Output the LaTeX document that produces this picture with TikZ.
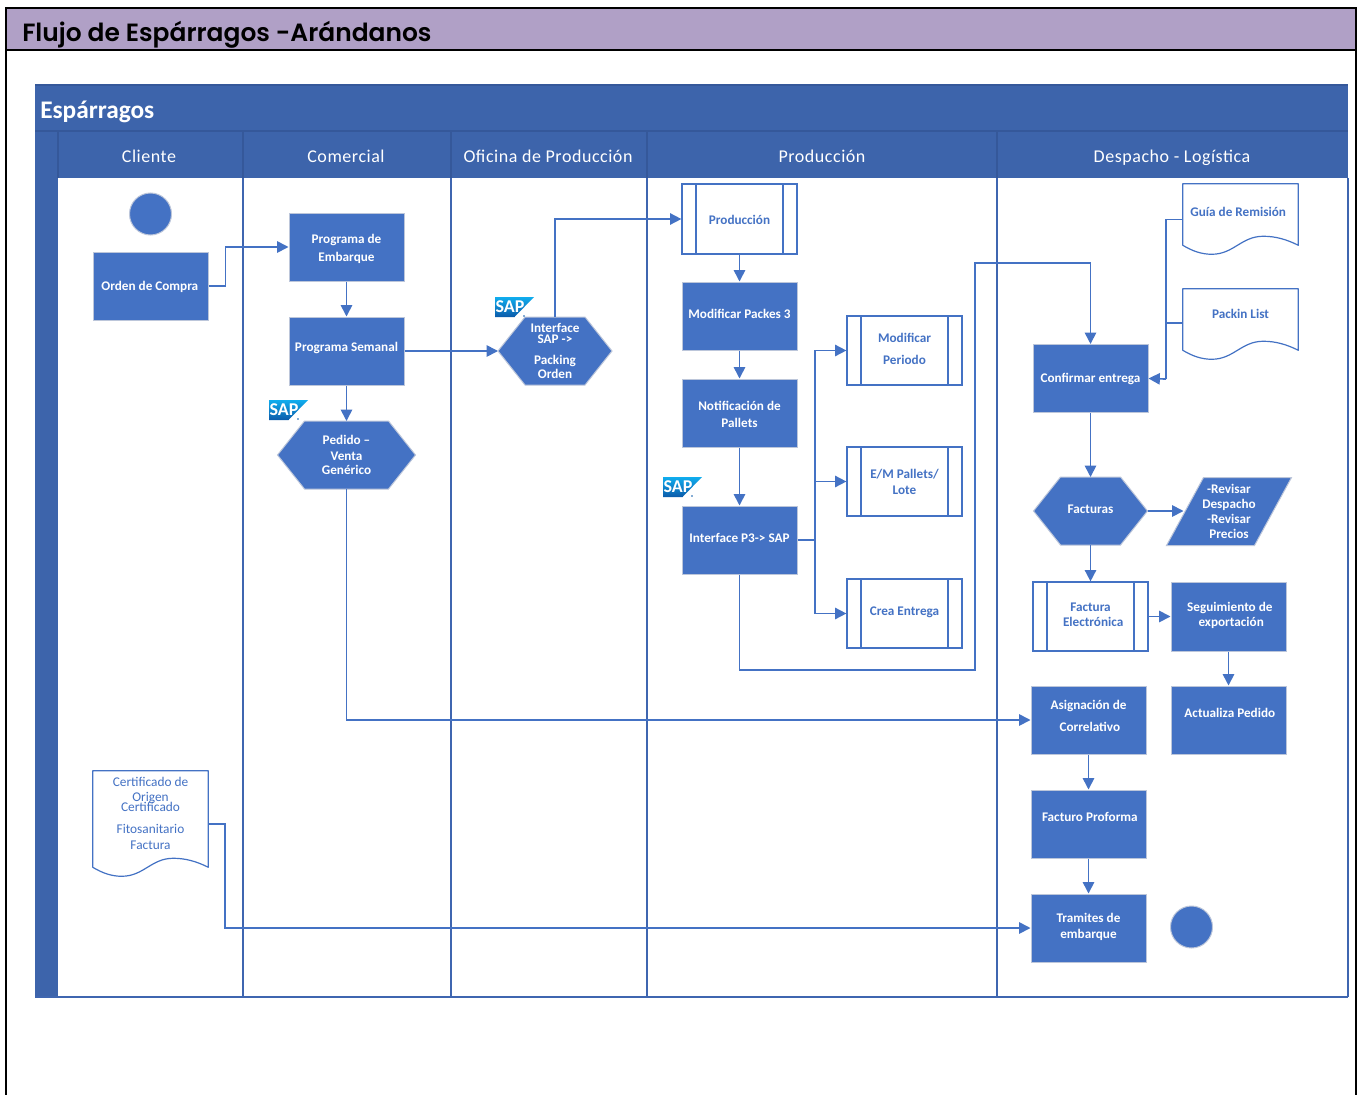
\documentclass[tikz,border=0pt]{standalone}
\usepackage{fontspec}
\setmainfont{Carlito}
\newfontfamily\titlefont{Poppins}[BoldFont={Poppins SemiBold}]
\usetikzlibrary{arrows.meta}
\definecolor{boxblue}{HTML}{4472C4}
\definecolor{boxedge}{HTML}{BCC6DA}
\definecolor{laneblue}{HTML}{3D64AB}
\definecolor{lanedark}{HTML}{35589A}
\definecolor{lineblue}{HTML}{3F66B0}
\definecolor{band}{HTML}{B0A0C6}
\definecolor{saptop}{HTML}{10ADEE}
\definecolor{sapbot}{HTML}{0B5BAA}
\newcommand{\up}[1]{\rule[-#1pt]{0pt}{0pt}}
\newcommand{\dn}[1]{\rule{0pt}{#1pt}}
\newcommand{\boxfont}{\fontsize{9.9}{11.4}\selectfont\bfseries}
\newcommand{\docwave}[1]{%
  \draw[docline] (#1.south west) -- (#1.north west) -- (#1.north east) -- (#1.south east)
   .. controls ([shift={(-12,-6)}]#1.south east) and ([shift={(-23,-9)}]#1.south east) .. ([shift={(-35,-9)}]#1.south east)
   .. controls ([shift={(-57,-9)}]#1.south east) and ([shift={(51,9)}]#1.south west) .. ([shift={(29,9)}]#1.south west)
   .. controls ([shift={(19,9)}]#1.south west) and ([shift={(10,6)}]#1.south west) .. (#1.south west);}
\tikzset{
  x=0.75pt, y=-0.75pt,
  sz/.style n args={2}{minimum width=#1*0.75pt, minimum height=#2*0.75pt},
  proc/.style={rectangle, fill=boxblue, draw=boxedge, line width=0.75pt, inner sep=0pt,
     text=white, font=\boxfont, align=center},
  subp/.style={rectangle, fill=white, draw=boxblue, line width=0.9pt, inner sep=0pt,
     text=boxblue, font=\boxfont, align=center,
     path picture={\draw[boxblue, line width=0.9pt]
        ([shift={(14,0)}]path picture bounding box.north west) -- ([shift={(14,0)}]path picture bounding box.south west)
        ([shift={(-14,0)}]path picture bounding box.north east) -- ([shift={(-14,0)}]path picture bounding box.south east);}},
  hexa/.style={rectangle, inner sep=0pt, outer sep=-0.75pt, text=white, font=\boxfont, align=center,
     path picture={\path[fill=boxblue, draw=boxedge, line width=0.75pt]
        ([shift={(1,0)}]path picture bounding box.west)
        -- ([shift={(#1+1,1)}]path picture bounding box.north west)
        -- ([shift={(-#1-1,1)}]path picture bounding box.north east)
        -- ([shift={(-1,0)}]path picture bounding box.east)
        -- ([shift={(-#1-1,-1)}]path picture bounding box.south east)
        -- ([shift={(#1+1,-1)}]path picture bounding box.south west) -- cycle;}},
  para/.style={rectangle, inner sep=0pt, text=white, font=\boxfont, align=center,
     path picture={\path[fill=boxblue, draw=boxedge, line width=0.75pt]
        ([shift={(#1+1,1)}]path picture bounding box.north west)
        -- ([shift={(-1,1)}]path picture bounding box.north east)
        -- ([shift={(-#1-1,-1)}]path picture bounding box.south east)
        -- ([shift={(1,-1)}]path picture bounding box.south west) -- cycle;}},
  docnode/.style={rectangle, inner sep=0pt, text=boxblue, align=center},
  docline/.style={boxblue, line width=0.9pt, line join=round},
  ball/.style={circle, fill=boxblue, draw=boxedge, line width=0.75pt, inner sep=0pt, minimum size=31.5pt},
  conn/.style={boxblue, line width=1.25pt, -{Triangle[length=8.5pt,width=8.5pt]}},
  plain/.style={boxblue, line width=1.25pt},
  lane/.style={lineblue, line width=1.4pt},
  head/.style={text=white, font=\fontsize{13.5}{15}\selectfont\addfontfeature{LetterSpace=3}, inner sep=0pt, text height=10pt, text depth=3pt},
  saplogo/.pic={
    \shade[top color=saptop, bottom color=sapbot] (0,0) -- (39,0) -- (19.5,20) -- (0,20) -- cycle;
    \node[text=white, inner sep=0pt, font=\fontsize{13.5}{14}\selectfont\bfseries] (-t) at (15,9.5) {SAP};
    \fill[sapbot] (29,19) circle (0.9);
  },
}
\begin{document}
\begin{tikzpicture}
\useasboundingbox (0,0) rectangle (1359,1095);
\fill[white] (0,0) rectangle (1359,1095);
% outer frame
\fill[band] (6,8) rectangle (1356,50);
\draw[black, line width=1.5pt] (6,1096) -- (6,8) -- (1356,8) -- (1356,1096);
\draw[black, line width=1.5pt] (6,50) -- (1356,50);
\node[anchor=west, inner sep=0pt, text=black, font=\titlefont\fontsize{18.7}{24}\selectfont\bfseries] (title) at (22,34.5) {Flujo de Espárragos -Arándanos};
% swimlane
\fill[laneblue] (35,85) rectangle (1348,178);
\fill[laneblue] (35,178) rectangle (58,997);
\draw[lanedark, line width=0.9pt] (35,85) -- (1348,85) (35,131) -- (1348,131);
\foreach \xx in {58,243,451,647,997}{\draw[lanedark, line width=0.9pt] (\xx,131) -- (\xx,178);}
\foreach \xx in {243,451,647,997,1348}{\draw[lane] (\xx,178) -- (\xx,997);}
\draw[lane] (35,997) -- (1348,997);
\node[anchor=west, inner sep=0pt, text=white, font=\fontsize{19}{22}\selectfont\bfseries] (lanetitle) at (40,111.5) {Espárragos};
\node[head] (h1) at (149,158) {Cliente};
\node[head] (h2) at (346,158) {Comercial};
\node[head] (h3) at (548,158) {Oficina de Producción};
\node[head] (h4) at (822,158) {Producción};
\node[head] (h5) at (1172,158) {Despacho - Logística};
% Cliente
\node[ball] (start) at (150.5,214) {};
\node[proc,sz={115}{68}] (orden) at (150.5,286) {\dn{9}\hspace{-1pt}Orden de Compra};
\node[docnode,sz={115}{96},font=\fontsize{10}{11.2}\selectfont] (cert) at (150.5,819) {Certificado de\\Origen\\[-3.4pt]Certificado\\[5.4pt]Fitosanitario\\[0.8pt]Factura\up{8.5}};
\docwave{cert}
% Comercial
\node[proc,sz={115}{68}] (pemb) at (346.5,247) {\dn{10}Programa de\\[1.6pt]Embarque};
\node[proc,sz={115}{68}] (psem) at (346.5,351) {Programa Semanal\up{6}};
\node[hexa=27,sz={140}{70}] (ped) at (346.5,455) {Pedido --\\[0.6pt]Venta\\[-0.4pt]Genérico};
% Oficina
\node[hexa=27,sz={116}{70}] (isap) at (555,351) {Interface\\[-2.8pt]SAP ->\\[4.4pt]Packing\\[-1pt]Orden};
% Produccion
\node[subp,sz={115}{70}] (prod) at (739.5,219) {\dn{9}Producción};
\node[proc,sz={115}{68}] (mod3) at (739.5,316) {Modificar Packes 3\up{2.5}};
\node[proc,sz={115}{68}] (notif) at (739.5,413) {\dn{9}Notificación de\\[0.8pt]Pallets};
\node[proc,sz={115}{68}] (p3) at (739.5,540) {Interface P3-> SAP\up{2.5}};
\node[subp,sz={115}{69}] (modp) at (904.5,350.5) {Modificar\\[4.6pt]Periodo\up{2.5}};
\node[subp,sz={115}{69}] (emp) at (904.5,481.5) {E/M Pallets/\\[0.6pt]Lote};
\node[subp,sz={115}{69}] (crea) at (904.5,613.5) {Crea Entrega\up{4}};
% Despacho
\node[docnode,sz={115}{61},font=\boxfont] (guia) at (1240.5,214.5) {Guía de Remisión\hspace{3.5pt}\up{4}};
\docwave{guia}
\node[docnode,sz={115}{61},font=\boxfont] (pack) at (1240.5,319.5) {Packin List\up{9}};
\docwave{pack}
\node[proc,sz={115}{68}] (conf) at (1090.5,378.5) {\dn{7.5}Confirmar entrega};
\node[hexa=27,sz={116}{70}] (fact) at (1090.5,511) {Facturas\up{2}};
\node[para=37,sz={127}{70}] (rev) at (1229,511.5) {-Revisar\\[-0.2pt]Despacho\\[-0.2pt]-Revisar\\[-0.6pt]Precios};
\coordinate (revin) at (1183.5,511);
\node[subp,sz={115}{69}] (felec) at (1090.5,616.5) {Factura\\[0pt]\hspace{4pt}Electrónica\up{3}};
\node[proc,sz={115}{69}] (seg) at (1228.5,616.5) {\hspace{2pt}Seguimiento de\\[0pt]\hspace{4pt}exportación\up{3}};
\node[proc,sz={115}{68}] (act) at (1228.5,720) {\hspace{2pt}Actualiza Pedido\up{10}};
\node[proc,sz={115}{68}] (asig) at (1088.5,720) {Asignación de\\[5.4pt]\hspace{2pt}Correlativo\up{6}};
\node[proc,sz={115}{68}] (prof) at (1088.5,824) {\hspace{2pt}Facturo Proforma\up{10}};
\node[proc,sz={115}{68}] (tram) at (1088.5,928) {Tramites de\\[1pt]embarque\up{3}};
\node[ball] (fin) at (1191.5,927) {};
% SAP logos
\pic (sapa) at (495,297) {saplogo};
\pic (sapb) at (269,400) {saplogo};
\pic (sapc) at (663,477) {saplogo};
% connectors
\draw[conn] (orden.east) -- ++(17,0) |- (pemb.west);
\draw[conn] (pemb.south) -- (psem.north);
\draw[conn] (psem.south) -- (ped.north);
\draw[conn] (psem.east) -- (isap.west);
\draw[conn] (isap.north) |- (prod.west);
\draw[conn] (prod.south) -- (mod3.north);
\draw[conn] (mod3.south) -- (notif.north);
\draw[conn] (notif.south) -- (p3.north);
\coordinate (trunk) at (815,540);
\draw[plain] (p3.east) -- (trunk);
\draw[conn] (trunk) |- (modp.west);
\draw[conn] (trunk) |- (emp.west);
\draw[conn] (trunk) |- (crea.west);
\coordinate (ra) at (975,670);
\coordinate (rb) at (975,263);
\draw[conn] (p3.south) |- (ra) -- (rb) -| (conf.north);
\coordinate (gj) at (1166,379);
\coordinate (ge) at (1183,219.5);
\coordinate (pe) at (1183,323);
\draw[plain] (ge) -| (gj);
\draw[plain] (pe) -| (gj);
\draw[conn] (gj) -- (conf.east);
\draw[conn] (conf.south) -- (fact.north);
\draw[conn] (fact.east) -- (revin);
\draw[conn] (fact.south) -- (felec.north);
\draw[conn] (felec.east) -- (seg.west);
\draw[conn] (seg.south) -- (act.north);
\draw[conn] (ped.south) |- (asig.west);
\draw[conn] (asig.south) -- (prof.north);
\draw[conn] (prof.south) -- (tram.north);
\coordinate (ce) at (208,824);
\draw[conn] (ce) -- ++(17,0) |- (tram.west);
\end{tikzpicture}
\end{document}
